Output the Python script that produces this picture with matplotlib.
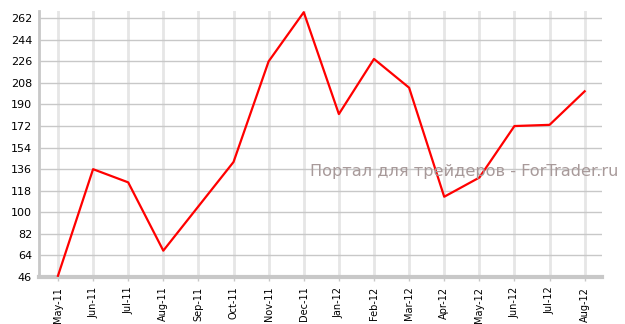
import matplotlib
matplotlib.use('Agg')
import matplotlib.pyplot as plt

# data
months = ['May-11', 'Jun-11', 'Jul-11', 'Aug-11', 'Sep-11', 'Oct-11', 'Nov-11', 'Dec-11',
          'Jan-12', 'Feb-12', 'Mar-12', 'Apr-12', 'May-12', 'Jun-12', 'Jul-12', 'Aug-12']
values = [47, 136, 125, 68, 105, 142, 226, 267, 182, 228, 204, 113, 129, 172, 173, 201]
yticks = [46, 64, 82, 100, 118, 136, 154, 172, 190, 208, 226, 244, 262]

fig = plt.figure(figsize=(6.25, 3.24), dpi=100)
ax = fig.add_axes([0.0624, 0.145, 0.9006, 0.821])

x = list(range(len(months)))
ax.plot(x, values, color='#ff0000', linewidth=1.6, zorder=3)

ax.set_xlim(-0.54, len(months) - 1 + 0.49)
ax.set_ylim(46, 268)
ax.set_yticks(yticks)
ax.set_xticks(x)
ax.set_xticklabels(months, rotation=90, fontsize=7)
ax.tick_params(axis='y', labelsize=8, length=0, pad=5)
ax.tick_params(axis='x', length=3, color='#c8c8c8', width=1, pad=4)

# grid
ax.grid(axis='y', color='#c8c8c8', linewidth=1)
ax.grid(axis='x', color='#e6e6e6', linewidth=2)
ax.set_axisbelow(True)

for s in ['top', 'right']:
    ax.spines[s].set_visible(False)
ax.spines['left'].set_color('#c8c8c8')
ax.spines['left'].set_linewidth(2)
ax.spines['bottom'].set_color('#c8c8c8')
ax.spines['bottom'].set_linewidth(3)

# watermark
fig.text(0.989, 0.47, 'Портал для трейдеров - ForTrader.ru', ha='right', va='center',
         fontsize=11.6, color='#a89a9a')

plt.savefig('out.png', dpi=100)
